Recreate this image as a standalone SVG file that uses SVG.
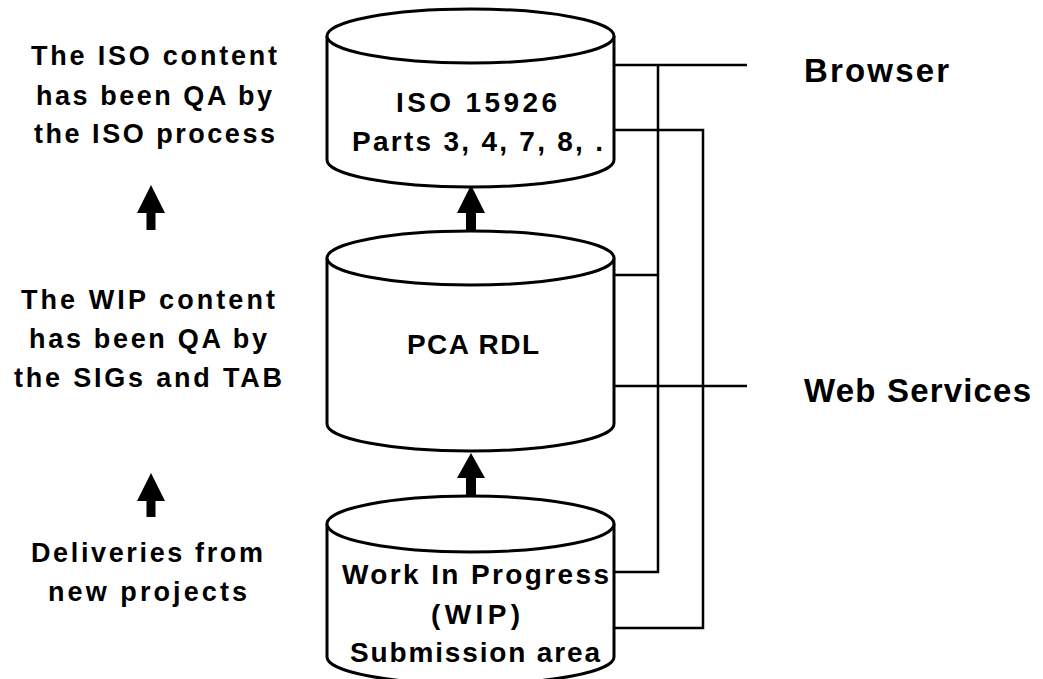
<svg xmlns="http://www.w3.org/2000/svg" width="1043" height="679" viewBox="0 0 1043 679">
<style>
text{font-family:"Liberation Sans",Arial,sans-serif;font-weight:bold;fill:#000}
.lbl{font-size:27px}
.cyl{font-size:28px}
.big{font-size:33px}
.body{fill:#fff;stroke:#000;stroke-width:3}
.ln{fill:none;stroke:#000;stroke-width:2.5}
.arr{fill:#000;stroke:none}
</style>
<rect width="1043" height="679" fill="#fff"/>
<g id="connectors">
<polyline class="ln" points="614,65 747,65"/>
<polyline class="ln" points="658,64 658,572 614,572"/>
<polyline class="ln" points="614,275 658,275"/>
<polyline class="ln" points="614,130 703,130 703,628 614,628"/>
<polyline class="ln" points="614,386 747,386"/>
<polygon class="arr" points="471,185 485,213 476,213 476,233 466,233 466,213 457,213"/>
<polygon class="arr" points="471,453 485,478 476,478 476,498 466,498 466,478 457,478"/>
<polygon class="arr" points="151,185 165,213 155.5,213 155.5,230 146.5,230 146.5,213 137,213"/>
<polygon class="arr" points="151,473 165,501 155.5,501 155.5,517 146.5,517 146.5,501 137,501"/>
</g>
<g id="iso">
<path class="body" d="M327,36 L327,160 A143.5,27 0 0 0 614,160 L614,36"/>
<ellipse class="body" cx="470.5" cy="36" rx="143.5" ry="27"/>
<text class="cyl" x="396" y="112" textLength="161" lengthAdjust="spacing">ISO 15926</text>
<text class="cyl" x="352" y="151" textLength="251" lengthAdjust="spacing">Parts 3, 4, 7, 8, .</text>
</g>
<g id="pca">
<path class="body" d="M327,258 L327,424 A143.5,27 0 0 0 614,424 L614,258"/>
<ellipse class="body" cx="470.5" cy="258" rx="143.5" ry="27"/>
<text class="cyl" x="407" y="354" textLength="132" lengthAdjust="spacing">PCA RDL</text>
</g>
<g id="wip">
<path class="body" d="M327,524 L327,657 A143.5,27 0 0 0 614,657 L614,524"/>
<ellipse class="body" cx="470.5" cy="524" rx="143.5" ry="28"/>
<text class="cyl" x="342" y="584" textLength="267" lengthAdjust="spacing">Work In Progress</text>
<text class="cyl" x="431" y="624" textLength="89" lengthAdjust="spacing">(WIP)</text>
<text class="cyl" x="350" y="662" textLength="250" lengthAdjust="spacing">Submission area</text>
</g>
<g id="browser">
<text class="big" x="804" y="82" textLength="145" lengthAdjust="spacing">Browser</text>
</g>
<g id="webservices">
<text class="big" x="804" y="402" textLength="227" lengthAdjust="spacing">Web Services</text>
</g>
<g id="note-iso">
<text class="lbl" x="31" y="65" textLength="246" lengthAdjust="spacing">The ISO content</text>
<text class="lbl" x="36" y="105" textLength="236" lengthAdjust="spacing">has been QA by</text>
<text class="lbl" x="34" y="143" textLength="241" lengthAdjust="spacing">the ISO process</text>
</g>
<g id="note-wip">
<text class="lbl" x="21" y="309" textLength="254" lengthAdjust="spacing">The WIP content</text>
<text class="lbl" x="29" y="348" textLength="238" lengthAdjust="spacing">has been QA by</text>
<text class="lbl" x="14" y="387" textLength="268" lengthAdjust="spacing">the SIGs and TAB</text>
</g>
<g id="note-deliveries">
<text class="lbl" x="31" y="562" textLength="232" lengthAdjust="spacing">Deliveries from</text>
<text class="lbl" x="48" y="601" textLength="199" lengthAdjust="spacing">new projects</text>
</g>
</svg>
